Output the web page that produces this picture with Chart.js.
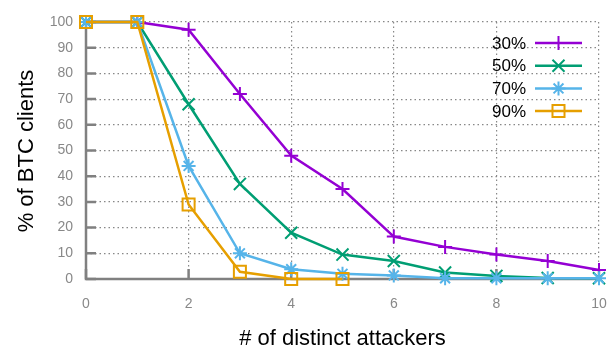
<!DOCTYPE html>
<html>
<head>
<meta charset="utf-8">
<script src="https://cdn.jsdelivr.net/npm/chart.js@4/dist/chart.umd.min.js"></script>
<style>
html,body{margin:0;padding:0;background:#fff;}
#wrap{width:610px;height:347px;position:relative;}
</style>
</head>
<body>
<div id="wrap"><canvas id="c" width="610" height="347"></canvas></div>
<script>
// ---- data ----
const attackers = [0, 1, 2, 3, 4, 5, 6, 7, 8, 9, 10];
const seriesNames = ['30%', '50%', '70%', '90%'];
const p30 = [100, 100, 97, 72, 48, 35, 16.5, 12.5, 9.5, 7, 3.5];
const p50 = [100, 100, 68, 37, 18, 9.5, 7, 2.5, 1.2, 0.4, 0.3];
const p70 = [100, 100, 44, 10, 3.8, 2, 1.4, 0.3, 0.3, 0.3, 0.3];
const p90 = [100, 100, 29, 2.8, 0, 0];
const xTicks = [0, 2, 4, 6, 8, 10];
const yTicks = [0, 10, 20, 30, 40, 50, 60, 70, 80, 90, 100];
const xTitle = '# of distinct attackers';
const yTitle = '% of BTC clients';

const colors = ['#9400d3', '#009e73', '#56b4e9', '#e69f00'];
const styles = ['cross', 'crossRot', 'star', 'rect'];
const radii = [7, 8.5, 7, 8.5];
const values = [p30, p50, p70, p90];

const FONT = '"Liberation Sans", Arial, Helvetica, sans-serif';
const GRAY = '#808080';

const datasets = values.map((vals, i) => ({
  label: seriesNames[i],
  data: vals.map((v, j) => ({x: attackers[j], y: v})),
  borderColor: colors[i],
  backgroundColor: 'rgba(0,0,0,0)',
  pointBorderColor: colors[i],
  pointBackgroundColor: 'rgba(0,0,0,0)',
  pointStyle: styles[i],
  pointRadius: radii[i],
  pointHoverRadius: radii[i],
  pointBorderWidth: 2,
  borderWidth: 2.5,
  tension: 0,
  clip: false,
  order: values.length - i
}));

function drawMarker(ctx, style, x, y, r, color) {
  ctx.save();
  ctx.strokeStyle = color;
  ctx.lineWidth = 2;
  ctx.beginPath();
  if (style === 'cross') {
    ctx.moveTo(x - r, y); ctx.lineTo(x + r, y);
    ctx.moveTo(x, y - r); ctx.lineTo(x, y + r);
  } else if (style === 'crossRot') {
    const d = r * Math.SQRT1_2;
    ctx.moveTo(x - d, y - d); ctx.lineTo(x + d, y + d);
    ctx.moveTo(x - d, y + d); ctx.lineTo(x + d, y - d);
  } else if (style === 'star') {
    const d = r * Math.SQRT1_2;
    ctx.moveTo(x - r, y); ctx.lineTo(x + r, y);
    ctx.moveTo(x, y - r); ctx.lineTo(x, y + r);
    ctx.moveTo(x - d, y - d); ctx.lineTo(x + d, y + d);
    ctx.moveTo(x - d, y + d); ctx.lineTo(x + d, y - d);
  } else if (style === 'rect') {
    const s = r * Math.SQRT1_2;
    ctx.rect(x - s, y - s, 2 * s, 2 * s);
  }
  ctx.stroke();
  ctx.restore();
}

const gnuplotDecor = {
  id: 'gnuplotDecor',
  beforeDatasetsDraw(chart) {
    const ctx = chart.ctx;
    const xs = chart.scales.x, ys = chart.scales.y;
    const a = chart.chartArea;
    ctx.save();
    ctx.strokeStyle = GRAY;
    ctx.lineWidth = 2.5;
    ctx.beginPath();
    ctx.moveTo(a.left, a.top - 1);
    ctx.lineTo(a.left, a.bottom);
    ctx.lineTo(a.right, a.bottom);
    ctx.stroke();
    // inward ticks
    ctx.beginPath();
    yTicks.forEach(v => {
      const py = ys.getPixelForValue(v);
      ctx.moveTo(a.left, py); ctx.lineTo(a.left + 10, py);
    });
    xTicks.forEach(v => {
      const px = xs.getPixelForValue(v);
      ctx.moveTo(px, a.bottom); ctx.lineTo(px, a.bottom - 10);
    });
    ctx.stroke();
    ctx.restore();
  },
  afterDraw(chart) {
    const ctx = chart.ctx;
    const a = chart.chartArea;
    ctx.save();
    ctx.fillStyle = '#000';
    // axis titles
    ctx.font = '22px ' + FONT;
    ctx.textAlign = 'center';
    ctx.textBaseline = 'alphabetic';
    ctx.fillText(xTitle, (a.left + a.right) / 2, 345);
    ctx.save();
    ctx.translate(33, 151);
    ctx.rotate(-Math.PI / 2);
    ctx.fillText(yTitle, 0, 0);
    ctx.restore();
    // legend
    ctx.font = '17px ' + FONT;
    ctx.textAlign = 'right';
    ctx.textBaseline = 'middle';
    const y0 = 43, dy = 22.7;
    seriesNames.forEach((name, i) => {
      const y = y0 + i * dy;
      ctx.fillStyle = '#000';
      ctx.fillText(name, 526, y + 1);
      ctx.strokeStyle = colors[i];
      ctx.lineWidth = 2.5;
      ctx.beginPath();
      ctx.moveTo(535, y); ctx.lineTo(582, y);
      ctx.stroke();
      drawMarker(ctx, styles[i], 558.5, y, radii[i], colors[i]);
    });
    ctx.restore();
  }
};

new Chart(document.getElementById('c'), {
  type: 'line',
  data: { datasets },
  plugins: [gnuplotDecor],
  options: {
    responsive: false,
    animation: false,
    events: [],
    layout: { padding: { left: 0, right: 11, top: 22, bottom: 0 } },
    plugins: { legend: { display: false }, tooltip: { enabled: false }, title: { display: false } },
    scales: {
      x: {
        type: 'linear',
        min: 0, max: 10,
        afterFit(scale) { scale.height = 68; scale.paddingRight = 0; scale.paddingLeft = 0; },
        ticks: {
          stepSize: 2,
          color: '#888',
          font: { size: 14, family: FONT },
          padding: 17,
          maxRotation: 0,
          autoSkip: false
        },
        grid: { color: '#888', lineWidth: 1.2, drawTicks: false },
        border: { display: false, dash: [1.5, 3] }
      },
      y: {
        type: 'linear',
        min: 0, max: 100,
        afterFit(scale) { scale.width = 86; scale.paddingTop = 0; scale.paddingBottom = 0; },
        ticks: {
          stepSize: 10,
          color: '#888',
          font: { size: 14, family: FONT },
          padding: 13
        },
        grid: { color: '#888', lineWidth: 1.2, drawTicks: false },
        border: { display: false, dash: [1.5, 3] }
      }
    }
  }
});
</script>
</body>
</html>
